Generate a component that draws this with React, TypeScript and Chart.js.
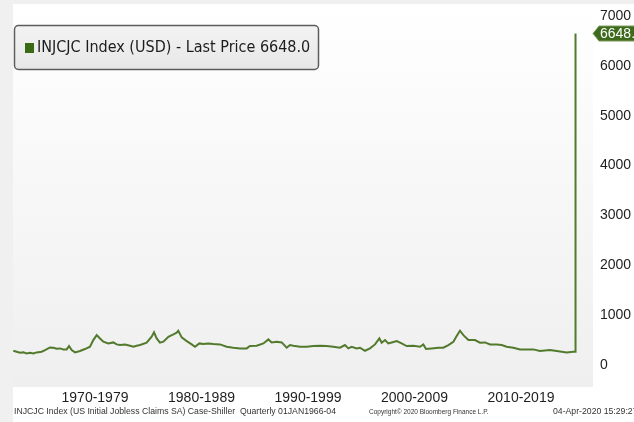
import { useEffect, useRef } from "react";
import { Chart, registerables } from "chart.js";

Chart.register(...registerables);

// Decimal-year positions of the readings and the claims values (thousands)
const years = [
  1967.33, 1967.64, 1967.96, 1968.27, 1968.58, 1968.9, 1969.21, 1969.52, 1969.99, 1970.31,
  1970.77, 1971.09, 1971.4, 1971.71, 1972.03, 1972.34, 1972.56, 1972.81, 1973.12, 1973.59,
  1974.06, 1974.53, 1974.84, 1975.16, 1975.47, 1975.78, 1976.25, 1976.72, 1977.03, 1977.35,
  1977.82, 1978.29, 1978.6, 1978.91, 1979.23, 1979.85, 1980.32, 1980.54, 1980.79, 1981.1,
  1981.42, 1981.89, 1982.36, 1982.67, 1982.82, 1983.14, 1983.61, 1984.08, 1984.39, 1984.8,
  1985.17, 1985.64, 1986.11, 1986.74, 1987.36, 1987.99, 1988.62, 1989.24, 1989.55, 1990.18,
  1990.81, 1991.28, 1991.59, 1992.06, 1992.53, 1993.0, 1993.31, 1993.62, 1994.25, 1994.87,
  1995.5, 1996.13, 1996.75, 1997.38, 1998.0, 1998.47, 1998.79, 1999.1, 1999.57, 1999.88,
  2000.35, 2000.82, 2001.29, 2001.7, 2001.92, 2002.23, 2002.54, 2002.86, 2003.33, 2003.79,
  2004.26, 2004.89, 2005.52, 2005.83, 2006.08, 2006.61, 2007.24, 2007.71, 2008.18, 2008.65,
  2008.96, 2009.27, 2009.59, 2010.06, 2010.68, 2011.15, 2011.62, 2012.09, 2012.72, 2013.19,
  2013.65, 2014.28, 2014.91, 2015.53, 2016.16, 2016.78, 2017.72, 2018.35, 2019.29, 2019.91,
  2020.07, 2020.12,
];
const claims = [
  287, 267, 247, 254, 234, 247, 234, 254, 267, 301,
  354, 347, 327, 334, 314, 314, 381, 301, 254, 281,
  321, 367, 501, 601, 534, 468, 434, 454, 414, 401,
  414, 387, 367, 387, 401, 448, 568, 655, 534, 448,
  468, 568, 615, 648, 688, 554, 481, 414, 367, 434,
  421, 434, 421, 414, 367, 347, 334, 334, 381, 387,
  434, 514, 454, 468, 454, 347, 401, 387, 367, 367,
  381, 385, 381, 367, 347, 401, 334, 367, 334, 347,
  287, 334, 414, 534, 448, 501, 434, 454, 481, 434,
  381, 387, 367, 414, 321, 334, 347, 347, 401, 468,
  581, 688, 601, 501, 501, 448, 454, 414, 414, 401,
  367, 347, 314, 314, 314, 281, 301, 281, 254, 267,
  267, 6648,
];

const decadeCenters = [1975, 1985, 1995, 2005, 2015];
const decadeLabels = ["1970-1979", "1980-1989", "1990-1999", "2000-2009", "2010-2019"];
const yTicks = [0, 1000, 2000, 3000, 4000, 5000, 6000, 7000];
const lastPrice = 6648.0;
const seriesName = "INJCJC Index (USD)";
const footerTexts = [
  "INJCJC Index (US Initial Jobless Claims SA) Case-Shiller  Quarterly 01JAN1966-04",
  "Copyright\u00a9 2020 Bloomberg Finance L.P.",
  "04-Apr-2020 15:29:27",
];

const FONT = "'Liberation Sans', Arial, sans-serif";
const LEGEND_FONT = "'Liberation Sans Narrow', 'DejaVu Sans Condensed', 'Arial Narrow', sans-serif";
const LINE = "#527a2c";

export default function App() {
  const ref = useRef<HTMLCanvasElement | null>(null);

  useEffect(() => {
    document.body.style.margin = "0";
    const canvas = ref.current;
    if (!canvas) return;

    const decor = {
      id: "decor",
      beforeDraw(chart: any) {
        const { ctx, chartArea: a, width, height } = chart;
        ctx.save();
        ctx.fillStyle = "#f0f0f0";
        ctx.fillRect(0, 0, width, height);
        ctx.fillStyle = "#ffffff";
        ctx.fillRect(a.left, a.top, width - a.left, height - a.top);
        const g = ctx.createLinearGradient(0, a.top, 0, a.bottom);
        g.addColorStop(0, "#ffffff");
        g.addColorStop(1, "#efefef");
        ctx.fillStyle = g;
        ctx.fillRect(a.left, a.top, a.right - a.left, a.bottom - a.top);
        ctx.restore();
      },
      afterDraw(chart: any) {
        const { ctx, chartArea: a, scales } = chart;
        ctx.save();
        // legend box
        const bx = 14.5, by = 25.5, bw = 304, bh = 44;
        const lg = ctx.createLinearGradient(0, by, 0, by + bh);
        lg.addColorStop(0, "#f3f3f3");
        lg.addColorStop(1, "#e7e7e7");
        ctx.beginPath();
        ctx.roundRect(bx, by, bw, bh, 4);
        ctx.fillStyle = lg;
        ctx.fill();
        ctx.lineWidth = 1.5;
        ctx.strokeStyle = "#5c5c5c";
        ctx.stroke();
        ctx.fillStyle = "#3b6a14";
        ctx.fillRect(25, 43, 9, 10);
        ctx.fillStyle = "#1c1c1c";
        ctx.font = `16px ${LEGEND_FONT}`;
        ctx.textBaseline = "middle";
        ctx.textAlign = "left";
        ctx.fillText(`${seriesName} - Last Price ${lastPrice.toFixed(1)}`, 37, 48);

        // last price tag
        const ty = scales.y.getPixelForValue(lastPrice);
        const tx = a.right;
        ctx.beginPath();
        ctx.moveTo(tx, ty);
        ctx.lineTo(tx + 6, ty - 7.5);
        ctx.lineTo(660, ty - 7.5);
        ctx.lineTo(660, ty + 7.5);
        ctx.lineTo(tx + 6, ty + 7.5);
        ctx.closePath();
        ctx.fillStyle = "#3d6a1c";
        ctx.fill();
        ctx.lineWidth = 1;
        ctx.strokeStyle = "#7d9a5e";
        ctx.stroke();
        ctx.fillStyle = "#ffffff";
        ctx.font = `14px ${FONT}`;
        ctx.fillText(lastPrice.toFixed(1), tx + 7, ty + 0.5);

        // footer
        ctx.fillStyle = "#333333";
        ctx.font = `8.7px ${FONT}`;
        ctx.fillText(footerTexts[0], 14, 412);
        ctx.font = `6.5px ${FONT}`;
        ctx.fillText(footerTexts[1], 369, 412);
        ctx.font = `8.7px ${FONT}`;
        ctx.fillText(footerTexts[2], 553, 412);
        ctx.restore();
      },
    };

    const chart = new Chart(canvas, {
      type: "line",
      data: {
        datasets: [
          {
            label: seriesName,
            data: years.map((x, i) => ({ x, y: claims[i] })),
            borderColor: LINE,
            borderWidth: 2,
            pointRadius: 0,
            tension: 0,
            fill: false,
          },
        ],
      },
      options: {
        responsive: false,
        animation: false,
        layout: { padding: { left: 13, top: 4, right: 0, bottom: 0 } },
        plugins: { legend: { display: false }, tooltip: { enabled: false } },
        scales: {
          x: {
            type: "linear",
            min: 1967.3,
            max: 2021.76,
            afterBuildTicks: (s: any) => {
              s.ticks = decadeCenters.map((v) => ({ value: v }));
            },
            afterFit: (s: any) => {
              s.height = 35;
              s.paddingLeft = 0;
              s.paddingRight = 0;
            },
            grid: { display: false, drawTicks: false },
            border: { display: false },
            ticks: {
              autoSkip: false,
              maxRotation: 0,
              padding: 3,
              color: "#1e1e1e",
              font: { family: FONT, size: 14 },
              callback: (_v: any, i: number) => decadeLabels[i],
            },
          },
          y: {
            position: "right",
            min: -440,
            max: 7240,
            afterBuildTicks: (s: any) => {
              s.ticks = yTicks.map((v) => ({ value: v }));
            },
            afterFit: (s: any) => {
              s.width = 41;
              s.paddingTop = 0;
              s.paddingBottom = 0;
            },
            grid: { display: false, drawTicks: false },
            border: { display: false },
            ticks: {
              padding: 7,
              color: "#1e1e1e",
              font: { family: FONT, size: 14 },
              callback: (v: any) => String(v),
            },
          },
        },
      },
      plugins: [decor],
    });

    return () => chart.destroy();
  }, []);

  return <canvas ref={ref} width={634} height={422} style={{ display: "block" }} />;
}
